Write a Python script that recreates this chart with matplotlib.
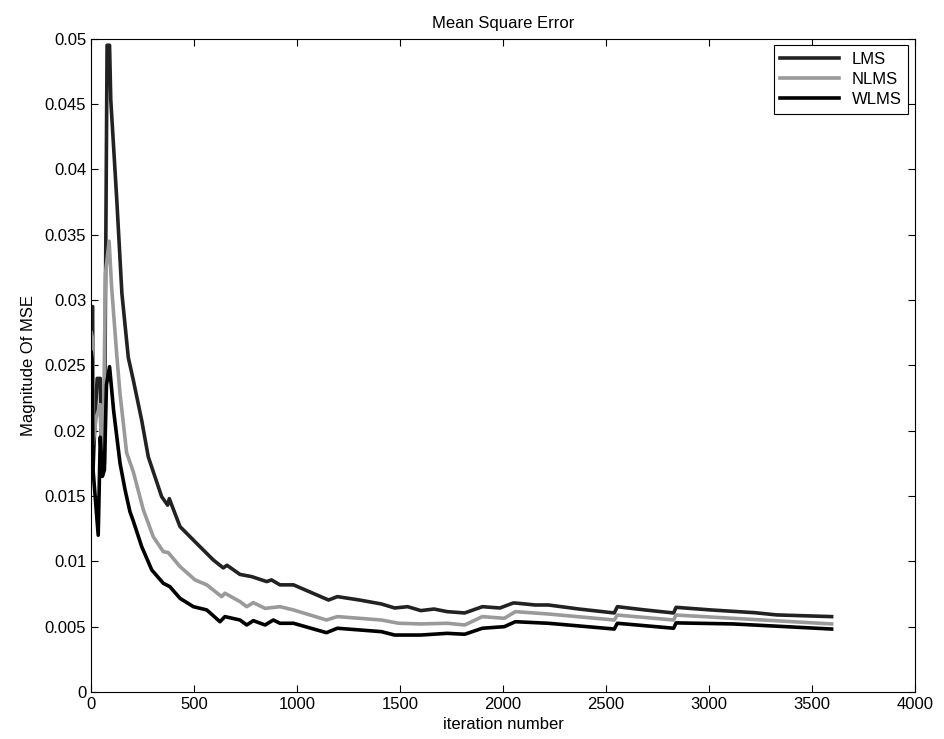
import numpy as np
import matplotlib.pyplot as plt

plt.rcParams['font.family'] = ['Liberation Sans', 'DejaVu Sans']

# valeurs (iteration, MSE)
lms_x = [1, 8, 10, 20, 30, 45, 50, 60, 65, 78, 90, 96, 125, 150, 181, 205, 246, 278, 343,
         372, 380, 432, 505, 594, 642, 660, 723, 780, 853, 876, 917, 983, 1153, 1196, 1303,
         1409, 1474, 1537, 1601, 1665, 1729, 1814, 1900, 1985, 2049, 2060, 2156, 2220, 2369,
         2540, 2555, 2689, 2828, 2840, 3009, 3222, 3328, 3595]
lms_y = [0.0295, 0.0295, 0.0170, 0.0210, 0.0240, 0.0240, 0.0170, 0.0170, 0.0175, 0.0495,
         0.0495, 0.0453, 0.0377, 0.0305, 0.0256, 0.0239, 0.0208, 0.0180, 0.01495, 0.0143,
         0.0148, 0.01266, 0.0115, 0.0101, 0.0095, 0.0097, 0.0090, 0.00883, 0.00845, 0.00858,
         0.0082, 0.0082, 0.00704, 0.0073, 0.00704, 0.00674, 0.00643, 0.00653, 0.00623,
         0.00635, 0.00615, 0.00605, 0.00653, 0.00643, 0.00681, 0.00681, 0.00666, 0.00666,
         0.00635, 0.00605, 0.00653, 0.00628, 0.00605, 0.00648, 0.00628, 0.00607, 0.0059,
         0.00577]

nlms_x = [1, 8, 10, 25, 45, 50, 60, 70, 88, 100, 125, 141, 173, 205, 254, 302, 351, 375,
          432, 505, 562, 634, 650, 723, 756, 788, 845, 917, 983, 1143, 1196, 1409, 1494,
          1601, 1729, 1814, 1900, 2006, 2060, 2220, 2540, 2555, 2828, 2840, 3116, 3595]
nlms_y = [0.0275, 0.0270, 0.0190, 0.0210, 0.0220, 0.0185, 0.0190, 0.0320, 0.0345, 0.0310,
          0.0258, 0.0228, 0.0183, 0.01687, 0.01394, 0.01189, 0.01074, 0.01067, 0.0096,
          0.00858, 0.0082, 0.0073, 0.00756, 0.00692, 0.00653, 0.00684, 0.0064, 0.00653,
          0.00628, 0.00551, 0.00577, 0.00551, 0.00526, 0.00521, 0.00526, 0.00513, 0.00577,
          0.00564, 0.00615, 0.00597, 0.00551, 0.00589, 0.00551, 0.00589, 0.00564, 0.00521]

wlms_x = [1, 5, 10, 20, 35, 45, 55, 65, 75, 90, 110, 141, 165, 189, 205, 246, 295, 351,
          383, 432, 497, 562, 626, 650, 723, 756, 788, 845, 885, 917, 983, 1143, 1196, 1409,
          1474, 1601, 1729, 1814, 1900, 2006, 2060, 2220, 2540, 2555, 2828, 2840, 3116, 3595]
wlms_y = [0.0260, 0.0255, 0.0170, 0.0150, 0.0120, 0.0195, 0.0165, 0.0170, 0.0235, 0.0249,
          0.0215, 0.0175, 0.0155, 0.0138, 0.0131, 0.01113, 0.00934, 0.00832,
          0.00806, 0.00717, 0.00653, 0.00628, 0.00538, 0.00577, 0.00551, 0.00513, 0.00546,
          0.00513, 0.00551, 0.00526, 0.00526, 0.00454, 0.00488, 0.00462, 0.00436, 0.00436,
          0.00449, 0.00442, 0.00488, 0.0050, 0.00538, 0.00526, 0.00482, 0.00526, 0.00488,
          0.00529, 0.00521, 0.00482]

fig = plt.figure(figsize=(9.45, 7.39), dpi=100)
ax = fig.add_axes([0.0963, 0.0636, 0.872, 0.884])

ax.plot(lms_x, lms_y, color='#222222', lw=2.6, label='LMS')
ax.plot(nlms_x, nlms_y, color='#9a9a9a', lw=2.6, label='NLMS')
ax.plot(wlms_x, wlms_y, color='#000000', lw=2.6, label='WLMS')

ax.set_xlim(0, 4000)
ax.set_ylim(0, 0.05)
ax.set_xticks(np.arange(0, 4001, 500))
ax.set_yticks(np.arange(0, 0.0501, 0.005))
ax.set_yticklabels(['0', '0.005', '0.01', '0.015', '0.02', '0.025', '0.03',
                    '0.035', '0.04', '0.045', '0.05'])
ax.tick_params(direction='in', top=True, right=True, length=5, labelsize=12, width=0.8)
for s in ax.spines.values():
    s.set_linewidth(0.8)

ax.set_xlabel('iteration number', fontsize=12, labelpad=4)
ax.set_ylabel('Magnitude Of MSE', fontsize=12, labelpad=6)
ax.set_title('Mean Square Error', fontsize=12, pad=8)

leg = ax.legend(loc='upper right', fontsize=12, handlelength=3.5, labelspacing=0.3,
                fancybox=False, edgecolor='black', framealpha=1, borderaxespad=0.4)
leg.get_frame().set_linewidth(0.8)

fig.savefig('out.png', dpi=100)
